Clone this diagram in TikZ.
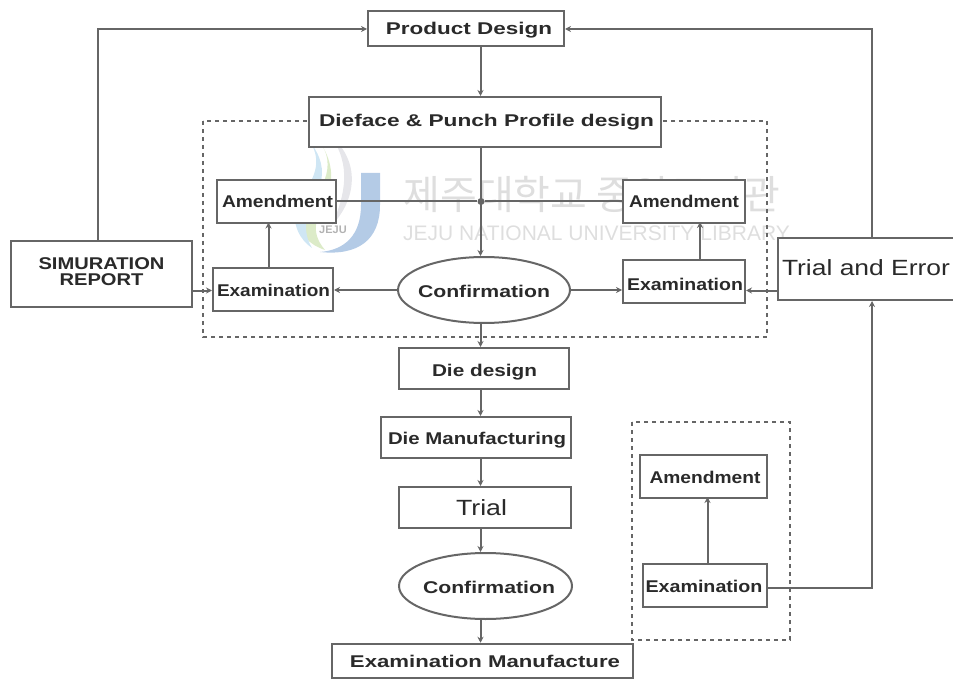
\documentclass[tikz,border=0pt]{standalone}
\usepackage{fontspec}
\usepackage{graphicx}
\setmainfont{Liberation Sans}
\newfontfamily\cjk{Noto Sans CJK KR}
\usetikzlibrary{shapes.geometric,arrows.meta}
\definecolor{ln}{HTML}{666666}
\definecolor{tx}{HTML}{2A2A2A}
\definecolor{wm}{HTML}{DEDEDE}
\definecolor{jblue}{HTML}{B4CBE6}
\definecolor{sblue}{HTML}{CFE6F4}
\definecolor{sgreen}{HTML}{DCEBC8}
\definecolor{sgray}{HTML}{E6E6EA}
\tikzset{
  base/.style={draw=ln,line width=2pt,fill=white,text=tx,inner sep=0pt,font=\bfseries\fontsize{17}{15}\selectfont},
  boxn/.style={base,rectangle},
  ell/.style={base,ellipse},
  conn/.style={draw=ln,line width=2pt,-{Stealth[length=6pt,width=6pt]}},
  wire/.style={draw=ln,line width=2pt},
  dashbox/.style={draw=ln,line width=1.1pt,dash pattern=on 4pt off 4pt},
  dotn/.style={circle,fill=ln,inner sep=0pt,minimum size=7pt},
  mark1/.style={text=wm,inner sep=0pt}
}
% args: text width, horizontal offset (x2), offset downward, text
\newcommand{\fitw}[4]{\makebox[0pt]{\hspace*{#2pt}\raisebox{\dimexpr-6pt-#3pt\relax}[0pt][0pt]{\resizebox{#1pt}{\height}{#4}}}}
\begin{document}
\begin{tikzpicture}[x=1pt,y=-1pt]
\useasboundingbox (0,0) rectangle (953,679);
\clip (0,0) rectangle (953,679);
% watermark
\fill[sgray] (330,135) .. controls (352,165) and (345,195) .. (332,225) .. controls (352,205) and (365,165) .. (330,135);
\fill[sgreen] (318,140) .. controls (340,165) and (320,195) .. (300,215) .. controls (298,235) and (310,245) .. (325,250) .. controls (308,230) and (318,215) .. (328,195) .. controls (335,175) and (330,155) .. (318,140);
\fill[sblue] (312,145) .. controls (325,170) and (305,190) .. (295,205) .. controls (292,225) and (300,240) .. (312,248) .. controls (298,225) and (312,205) .. (320,185) .. controls (325,170) and (320,155) .. (312,145);
\fill[jblue] (361,173) -- (380,173) -- (380,205) .. controls (380,240) and (358,256) .. (320,252) .. controls (345,250) and (361,235) .. (361,205) -- cycle;
\node[mark1,font=\bfseries\fontsize{11}{11}\selectfont,text=gray!60] (logoa) at (333,230) {JEJU};
\node[mark1,font=\cjk\fontsize{40}{40}\selectfont] (wmko) at (592,194) {제주대학교 중앙도서관};
\node[mark1,font=\fontsize{21}{21}\selectfont] (wmen) at (596.5,233) {JEJU NATIONAL UNIVERSITY LIBRARY};
% dashed groups
\draw[dashbox] (203,121) rectangle (767,337);
\draw[dashbox] (632,422) rectangle (790,640);
% nodes
\node[boxn,minimum width=196pt,minimum height=35pt] (product) at (466,29) {\fitw{166}{6}{0}{Product Design}};
\node[boxn,minimum width=352pt,minimum height=50pt] (dieface) at (485,122) {\fitw{335}{3}{-1}{Dieface \& Punch Profile design}};
\node[boxn,minimum width=119pt,minimum height=43pt] (amL) at (276.5,201.5) {\fitw{111}{2}{0.5}{Amendment}};
\node[boxn,minimum width=122pt,minimum height=43pt] (amR) at (684,201.5) {\fitw{110}{0}{0}{Amendment}};
\node[boxn,minimum width=120pt,minimum height=43pt] (exL) at (273,289.5) {\fitw{113}{1}{0.5}{Examination}};
\node[boxn,minimum width=122pt,minimum height=43pt] (exR) at (684,281.5) {\fitw{116}{2}{3}{Examination}};
\node[ell,minimum width=172pt,minimum height=66pt] (conf) at (484,290) {\fitw{132}{0}{1}{Confirmation}};
\node[boxn,minimum width=181pt,minimum height=66pt] (sim) at (101.5,274) {\fitw{126}{0}{-2}{\begin{tabular}{@{}c@{}}SIMURATION\\REPORT\end{tabular}}};
\node[boxn,font=\fontsize{22}{22}\selectfont,minimum width=190pt,minimum height=62pt] (trialerr) at (873,269) {\fitw{168}{-14}{0}{Trial and Error}};
\node[boxn,minimum width=170pt,minimum height=41pt] (diedes) at (484,368.5) {\fitw{105}{1}{1.5}{Die design}};
\node[boxn,minimum width=190pt,minimum height=41pt] (diemfg) at (476,437.5) {\fitw{178}{2}{1}{Die Manufacturing}};
\node[boxn,font=\fontsize{22}{22}\selectfont,minimum width=172pt,minimum height=41pt] (trial) at (485,507.5) {\fitw{51}{-7}{2}{Trial}};
\node[ell,minimum width=173pt,minimum height=66pt] (conf2) at (485.5,586) {\fitw{132}{7}{1.5}{Confirmation}};
\node[boxn,minimum width=301pt,minimum height=34.5pt] (exman) at (482.5,661) {\fitw{270}{5}{0.5}{Examination Manufacture}};
\node[boxn,minimum width=127pt,minimum height=43pt] (am3) at (703.5,476.5) {\fitw{111}{3}{1}{Amendment}};
\node[boxn,minimum width=124pt,minimum height=43pt] (ex3) at (705,585.5) {\fitw{117}{-2}{0.5}{Examination}};
% helper coordinates and junction
\coordinate (col) at (480.5,0);
\coordinate (lft) at (98,0);
\coordinate (rgt) at (872,0);
\coordinate (rowa) at (0,290.5);
\node[dotn] (junc) at (481,201.5) {};
% connectors
\draw[conn] (product.south -| col) -- (dieface.north -| col);
\draw[conn] (dieface.south -| col) -- (conf.north -| col);
\draw[wire] (amL.east) -- (junc) -- (amR.west);
\draw[conn] (exL.north -| amL.south) ++(-8,0) -- ++(0,-44.5);
\draw[conn] (exR.north) ++(16,0) -- ++(0,-37);
\draw[conn] (conf.west) -- (exL.east |- conf.west);
\draw[conn] (conf.east) -- (exR.west |- conf.east);
\draw[conn] (sim.east |- rowa) -- (exL.west |- rowa);
\draw[conn] (trialerr.west |- rowa) -- (exR.east |- rowa);
\draw[conn] (conf.south -| col) -- (diedes.north -| col);
\draw[conn] (diedes.south -| col) -- (diemfg.north -| col);
\draw[conn] (diemfg.south -| col) -- (trial.north -| col);
\draw[conn] (trial.south -| col) -- (conf2.north -| col);
\draw[conn] (conf2.south -| col) -- (exman.north -| col);
\draw[conn] (ex3.north) ++(2.5,0) -- ++(0,-66);
\draw[conn] (ex3.east) ++(0,2.5) -| (trialerr.south -| rgt);
\draw[conn] (sim.north -| lft) |- (product.west);
\draw[conn] (trialerr.north -| rgt) |- (product.east);
\end{tikzpicture}
\end{document}
